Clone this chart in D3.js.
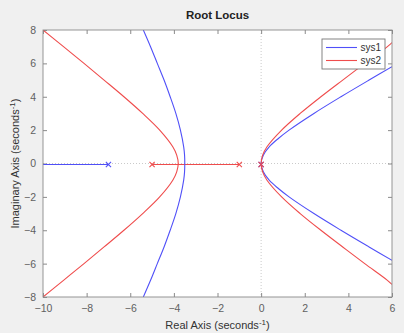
<!DOCTYPE html>
<html>
<head>
<meta charset="utf-8">
<script src="https://cdn.jsdelivr.net/npm/d3@7"></script>
<style>
  html, body { margin: 0; padding: 0; background: #f0f0f0; }
  svg { display: block; font-family: "Liberation Sans", Arial, Helvetica, sans-serif; }
</style>
</head>
<body>
<svg id="chart" width="404" height="333"></svg>
<script>
// Axis ticks
const xTicks = [-10, -8, -6, -4, -2, 0, 2, 4, 6];
const yTicks = [-8, -6, -4, -2, 0, 2, 4, 6, 8];

// Open-loop poles of each system (real axis)
const sys1Poles = [-7, 0];
const sys2Poles = [-5, -1, 0];

// Locus branches as [real, imaginary] points
const sys1RealAxis = [[-10, 0], [-7, 0]];
const sys1Left = [
  [-5.4, 8], [-5.07, 7], [-4.76, 6], [-4.45, 5], [-4.17, 4], [-3.91, 3], [-3.7, 2],
  [-3.55, 1], [-3.51, 0.5], [-3.5, 0], [-3.51, -0.5], [-3.55, -1], [-3.7, -2],
  [-3.91, -3], [-4.17, -4], [-4.45, -5], [-4.76, -6], [-5.07, -7], [-5.4, -8]
];
const sys1Right = [
  [6, 5.8], [4.95, 5], [3.66, 4], [2.42, 3], [1.28, 2], [0.79, 1.5], [0.37, 1], [0.1, 0.5],
  [0, 0], [0.1, -0.5], [0.37, -1], [0.79, -1.5], [1.28, -2], [2.42, -3], [3.66, -4],
  [4.95, -5], [6, -5.8]
];

const sys2RealAxis = [[-5, 0], [-1, 0]];
const sys2Left = [
  [-10, 8], [-9.06, 7], [-8.12, 6], [-7.2, 5], [-6.29, 4], [-5.43, 3], [-4.65, 2],
  [-4.05, 1], [-3.87, 0.5], [-3.8, 0], [-3.87, -0.5], [-4.05, -1], [-4.65, -2],
  [-5.43, -3], [-6.29, -4], [-7.2, -5], [-8.12, -6], [-9.06, -7], [-10, -8]
];
const sys2Right = [
  [6, 7.25], [5.79, 7], [4.75, 6], [3.74, 5], [2.74, 4], [1.79, 3], [0.94, 2], [0.27, 1],
  [0.07, 0.5], [0, 0], [0.07, -0.5], [0.27, -1], [0.94, -2], [1.79, -3], [2.74, -4],
  [3.74, -5], [4.75, -6], [5.79, -7], [6, -7.25]
];

const legendNames = ["sys1", "sys2"];
const colors = { sys1: "#5050f8", sys2: "#ef4c4c" };

const W = 404, H = 333;
const margin = { left: 43, right: 12, top: 30, bottom: 36 };
const pw = W - margin.left - margin.right;
const ph = H - margin.top - margin.bottom;

const svg = d3.select("#chart");
const x = d3.scaleLinear().domain([-10, 6]).range([0, pw]);
const y = d3.scaleLinear().domain([-8, 8]).range([ph, 0]);

const g = svg.append("g").attr("transform", `translate(${margin.left},${margin.top})`);

// Plot background
g.append("rect").attr("width", pw).attr("height", ph).attr("fill", "#ffffff");

g.append("clipPath").attr("id", "plotClip")
  .append("rect").attr("width", pw).attr("height", ph);

// Dotted zero lines
g.append("line").attr("x1", x(0)).attr("x2", x(0)).attr("y1", 0).attr("y2", ph)
  .attr("stroke", "#bdbdbd").attr("stroke-width", 0.8).attr("stroke-dasharray", "1,2");
g.append("line").attr("x1", 0).attr("x2", pw).attr("y1", y(0)).attr("y2", y(0))
  .attr("stroke", "#bdbdbd").attr("stroke-width", 0.8).attr("stroke-dasharray", "1,2");

// Axes (ticks inside, mirrored on opposite sides)
const tickColor = "#606060";
function styleAxis(sel) {
  sel.select(".domain").remove();
  sel.selectAll(".tick line").attr("stroke", "#8a8a8a");
  sel.selectAll(".tick text").attr("fill", tickColor).attr("font-size", 10.5);
}
g.append("g").attr("transform", `translate(0,${ph})`)
  .call(d3.axisBottom(x).tickValues(xTicks).tickSizeInner(-4).tickSizeOuter(0).tickPadding(8))
  .call(styleAxis);
g.append("g")
  .call(d3.axisTop(x).tickValues(xTicks).tickSizeInner(-4).tickSizeOuter(0).tickFormat(""))
  .call(styleAxis);
g.append("g")
  .call(d3.axisLeft(y).tickValues(yTicks).tickSizeInner(-4).tickSizeOuter(0).tickPadding(7))
  .call(styleAxis);
g.append("g").attr("transform", `translate(${pw},0)`)
  .call(d3.axisRight(y).tickValues(yTicks).tickSizeInner(-4).tickSizeOuter(0).tickFormat(""))
  .call(styleAxis);

// Locus curves
const plot = g.append("g").attr("clip-path", "url(#plotClip)");
const curve = d3.line().x(d => x(d[0])).y(d => y(d[1])).curve(d3.curveCatmullRom.alpha(0.5));
const straight = d3.line().x(d => x(d[0])).y(d => Math.round(y(d[1])) + 0.5);

function drawBranch(data, color, gen) {
  plot.append("path").datum(data).attr("d", gen)
    .attr("fill", "none").attr("stroke", color).attr("stroke-width", 1.1);
}
drawBranch(sys1RealAxis, colors.sys1, straight);
drawBranch(sys2RealAxis, colors.sys2, straight);
[sys1Left, sys1Right].forEach(b => drawBranch(b, colors.sys1, curve));
[sys2Left, sys2Right].forEach(b => drawBranch(b, colors.sys2, curve));

// Pole markers
function drawPoles(poles, color) {
  const s = 2.6;
  poles.forEach(p => {
    const cx = x(p), cy = Math.round(y(0)) + 0.5;
    plot.append("path")
      .attr("d", `M${cx - s},${cy - s}L${cx + s},${cy + s}M${cx - s},${cy + s}L${cx + s},${cy - s}`)
      .attr("stroke", color).attr("stroke-width", 1.1).attr("fill", "none");
  });
}
drawPoles(sys1Poles, colors.sys1);
drawPoles(sys2Poles, colors.sys2);

// Box
g.append("rect").attr("width", pw).attr("height", ph)
  .attr("fill", "none").attr("stroke", "#8a8a8a").attr("stroke-width", 0.9);

// Legend
const lg = svg.append("g").attr("transform", "translate(322,39)");
lg.append("rect").attr("width", 63).attr("height", 30)
  .attr("fill", "#ffffff").attr("stroke", "#777").attr("stroke-width", 0.9);
legendNames.forEach((name, i) => {
  const yy = 8.5 + i * 13;
  lg.append("line").attr("x1", 4).attr("x2", 35).attr("y1", yy).attr("y2", yy)
    .attr("stroke", colors[name]).attr("stroke-width", 1.1);
  lg.append("text").attr("x", 59).attr("y", yy + 3.5).attr("text-anchor", "end")
    .attr("font-size", 10).attr("fill", "#333").text(name);
});

// Title
svg.append("text").attr("x", margin.left + pw / 2).attr("y", 18.5)
  .attr("text-anchor", "middle").attr("font-size", 11.5).attr("font-weight", "bold")
  .attr("fill", "#222").text("Root Locus");

// Axis labels
const xl = svg.append("text").attr("x", margin.left + pw / 2).attr("y", 329)
  .attr("text-anchor", "middle").attr("font-size", 11).attr("fill", "#333");
xl.append("tspan").text("Real Axis (seconds");
xl.append("tspan").attr("dy", -4).attr("font-size", 8).text("-1");
xl.append("tspan").attr("dy", 4).text(")");

const yl = svg.append("text")
  .attr("transform", `translate(19,${margin.top + ph / 2}) rotate(-90)`)
  .attr("text-anchor", "middle").attr("font-size", 11).attr("fill", "#333");
yl.append("tspan").text("Imaginary Axis (seconds");
yl.append("tspan").attr("dy", -4).attr("font-size", 8).text("-1");
yl.append("tspan").attr("dy", 4).text(")");
</script>
</body>
</html>
